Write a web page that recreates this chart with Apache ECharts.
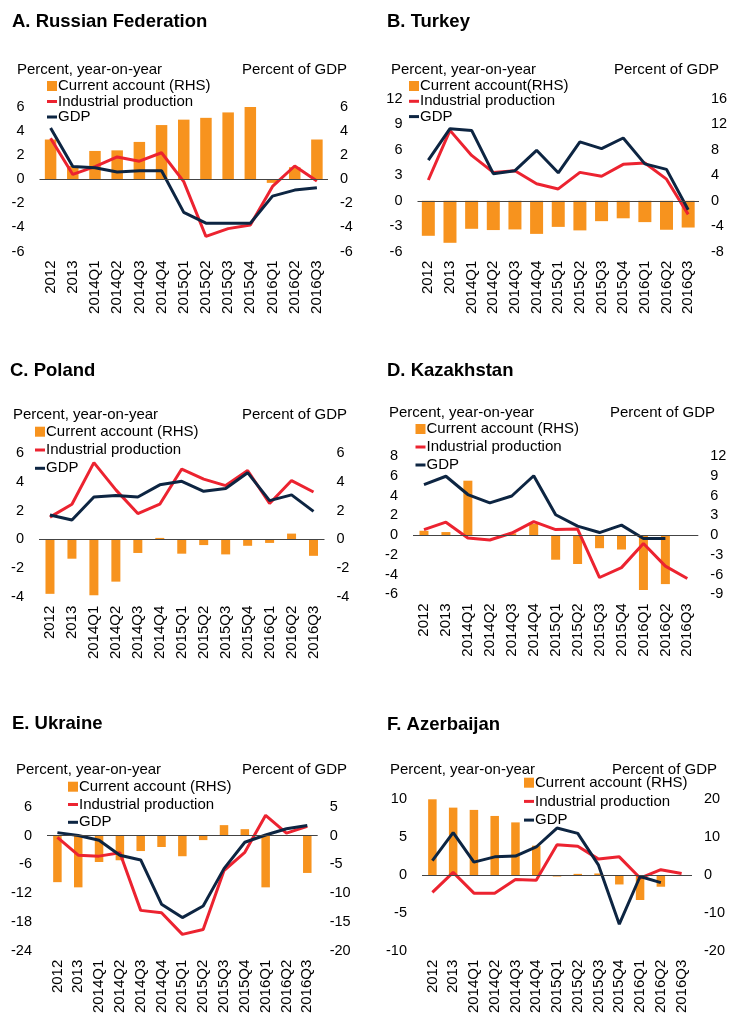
<!DOCTYPE html>
<html>
<head>
<meta charset="utf-8">
<title>Current account, industrial production and GDP</title>
<script src="https://cdn.jsdelivr.net/npm/echarts@6/dist/echarts.min.js"></script>
<style>
  html, body { margin: 0; padding: 0; background: #ffffff; }
  #chart { width: 733px; height: 1015px; }
</style>
</head>
<body>
<div id="chart"></div>
<script>
// Periods shared by all six panels
const categories = ['2012', '2013', '2014Q1', '2014Q2', '2014Q3', '2014Q4',
  '2015Q1', '2015Q2', '2015Q3', '2015Q4', '2016Q1', '2016Q2', '2016Q3'];

// A. Russian Federation
const russiaCurrentAccount = [3.3, 1.1, 2.35, 2.4, 3.1, 4.5, 4.95, 5.1, 5.55, 6.0, -0.3, 1.0, 3.3];
const russiaIndustrial = [3.4, 0.4, 1.05, 1.85, 1.5, 2.2, -0.2, -4.75, -4.1, -3.8, -0.6, 1.1, -0.15];
const russiaGDP = [4.25, 1.05, 0.95, 0.6, 0.7, 0.7, -2.75, -3.65, -3.65, -3.65, -1.4, -0.9, -0.7];

// B. Turkey
const turkeyCurrentAccount = [-5.5, -6.6, -4.4, -4.6, -4.5, -5.2, -4.1, -4.65, -3.2, -2.75, -3.35, -4.55, -4.2];
const turkeyIndustrial = [2.45, 8.3, 5.35, 3.35, 3.55, 2.0, 1.4, 3.35, 2.9, 4.3, 4.45, 2.55, -1.6];
const turkeyGDP = [4.8, 8.5, 8.3, 3.2, 3.55, 5.95, 3.3, 6.95, 6.15, 7.4, 4.35, 3.7, -1.05];

// C. Poland
const polandCurrentAccount = [-3.8, -1.35, -3.9, -2.95, -0.95, 0.1, -1.0, -0.4, -1.05, -0.45, -0.25, 0.4, -1.15];
const polandIndustrial = [1.55, 2.45, 5.35, 3.45, 1.8, 2.45, 4.9, 4.2, 3.75, 4.8, 2.5, 4.1, 3.3];
const polandGDP = [1.7, 1.35, 2.95, 3.05, 2.95, 3.8, 4.05, 3.35, 3.55, 4.65, 2.7, 3.1, 1.95];

// D. Kazakhstan
const kazakhstanCurrentAccount = [0.65, 0.45, 8.25, null, 0.25, 1.7, -3.75, -4.4, -2.0, -2.2, -8.35, -7.45, null];
const kazakhstanIndustrial = [0.55, 1.3, -0.3, -0.5, 0.2, 1.35, 0.55, 0.6, -4.3, -3.3, -0.85, -3.15, -4.4];
const kazakhstanGDP = [5.1, 5.95, 4.1, 3.25, 3.95, 6.0, 2.05, 0.9, 0.25, 1.0, -0.35, -0.35, null];

// E. Ukraine
const ukraineCurrentAccount = [-8.1, -9.0, -4.6, -4.3, -2.7, -2.0, -3.6, -0.8, 1.8, 1.1, -9.0, null, -6.5];
const ukraineIndustrial = [-0.4, -4.1, -4.3, -3.6, -15.6, -16.1, -20.6, -19.6, -7.3, -3.5, 4.2, 0.5, 1.9];
const ukraineGDP = [0.6, 0.0, -1.0, -4.1, -5.1, -14.3, -17.1, -14.7, -6.9, -1.4, 0.1, 1.4, 2.1];

// F. Azerbaijan
const azerbaijanCurrentAccount = [20.0, 17.8, 17.2, 15.6, 13.9, 7.75, -0.4, 0.3, 0.4, -2.5, -6.6, -3.1, null];
const azerbaijanIndustrial = [-2.3, 0.35, -2.4, -2.4, -0.6, -0.7, 4.0, 3.8, 2.1, 2.4, -0.4, 0.7, 0.2];
const azerbaijanGDP = [1.9, 5.6, 1.7, 2.4, 2.5, 3.7, 6.2, 5.5, 1.3, -6.5, -0.2, -1.0, null];

// Axis ranges: [min, max, interval] for left (percent y/y) and right (percent of GDP)
const russiaLeftAxis = [-6, 6, 2],      russiaRightAxis = [-6, 6, 2];
const turkeyLeftAxis = [-6, 12, 3],     turkeyRightAxis = [-8, 16, 4];
const polandLeftAxis = [-4, 6, 2],      polandRightAxis = [-4, 6, 2];
const kazakhstanLeftAxis = [-6, 8, 2],  kazakhstanRightAxis = [-9, 12, 3];
const ukraineLeftAxis = [-24, 6, 6],    ukraineRightAxis = [-20, 5, 5];
const azerbaijanLeftAxis = [-10, 10, 5], azerbaijanRightAxis = [-20, 20, 10];

const leftUnit = 'Percent, year-on-year';
const rightUnit = 'Percent of GDP';
const ipName = 'Industrial production';
const gdpName = 'GDP';

const panels = [
  { title: 'A. Russian Federation', caName: 'Current account (RHS)', ca: russiaCurrentAccount, ip: russiaIndustrial, gdp: russiaGDP, left: russiaLeftAxis, right: russiaRightAxis },
  { title: 'B. Turkey', caName: 'Current account(RHS)', ca: turkeyCurrentAccount, ip: turkeyIndustrial, gdp: turkeyGDP, left: turkeyLeftAxis, right: turkeyRightAxis },
  { title: 'C. Poland', caName: 'Current account (RHS)', ca: polandCurrentAccount, ip: polandIndustrial, gdp: polandGDP, left: polandLeftAxis, right: polandRightAxis },
  { title: 'D. Kazakhstan', caName: 'Current account (RHS)', ca: kazakhstanCurrentAccount, ip: kazakhstanIndustrial, gdp: kazakhstanGDP, left: kazakhstanLeftAxis, right: kazakhstanRightAxis },
  { title: 'E. Ukraine', caName: 'Current account (RHS)', ca: ukraineCurrentAccount, ip: ukraineIndustrial, gdp: ukraineGDP, left: ukraineLeftAxis, right: ukraineRightAxis },
  { title: 'F. Azerbaijan', caName: 'Current account (RHS)', ca: azerbaijanCurrentAccount, ip: azerbaijanIndustrial, gdp: azerbaijanGDP, left: azerbaijanLeftAxis, right: azerbaijanRightAxis }
];

// Placement of each panel on the page
const layout = [
  { grid: { left: 39.5, top: 107, width: 288.5, height: 144.5 }, title: [12, 12], units: [17, 62.5, 386], legend: [47, 78.5, 0.5], barWidth: 11.5 },
  { grid: { left: 417.5, top: 99, width: 281.5, height: 152.7 }, title: [387, 12], units: [391, 62.5, 14], legend: [409, 78.5, 0.3], barWidth: 13 },
  { grid: { left: 39, top: 453.3, width: 285.5, height: 143.4 }, title: [10, 361.5], units: [13, 407.5, 386], legend: [35, 424.2, 3.3], barWidth: 9 },
  { grid: { left: 413, top: 456, width: 285.3, height: 138.3 }, title: [387, 361], units: [389, 405, 18], legend: [415.5, 421.5, 3], barWidth: 9 },
  { grid: { left: 47, top: 806.7, width: 270.7, height: 144 }, title: [12, 714], units: [16, 762.5, 386], legend: [68, 779.2, 2.8], barWidth: 8.5 },
  { grid: { left: 422, top: 799.3, width: 270, height: 151.4 }, title: [387, 715], units: [390, 762.5, 16], legend: [524, 775.2, 3.7], barWidth: 8.5 }
];

const FONT = '"Liberation Sans", Arial, Helvetica, sans-serif';
const ORANGE = '#F7931E';
const RED = '#EC2330';
const NAVY = '#0D2542';
const TEXT = '#000000';
const LINE_ICON = 'path://M0,0H10V3H0Z';

const option = {
  animation: false,
  backgroundColor: '#ffffff',
  textStyle: { fontFamily: FONT },
  title: [],
  legend: [],
  grid: [],
  xAxis: [],
  yAxis: [],
  series: []
};

panels.forEach((p, i) => {
  const L = layout[i];

  option.title.push({
    text: p.title, left: L.title[0], top: L.title[1], padding: 0,
    textStyle: { fontFamily: FONT, fontSize: 18.5, fontWeight: 'bold', color: TEXT }
  });
  option.title.push({
    text: leftUnit, left: L.units[0], top: L.units[1], padding: 0,
    textStyle: { fontFamily: FONT, fontSize: 15, fontWeight: 'normal', color: TEXT }
  });
  option.title.push({
    text: rightUnit, right: L.units[2], top: L.units[1], padding: 0,
    textStyle: { fontFamily: FONT, fontSize: 15, fontWeight: 'normal', color: TEXT }
  });

  option.legend.push({
    orient: 'vertical', left: L.legend[0], top: L.legend[1], itemGap: L.legend[2],
    padding: 0, itemWidth: 10, itemHeight: 10, selectedMode: false,
    textStyle: { fontFamily: FONT, fontSize: 15, lineHeight: 15, color: TEXT, padding: [0, 0, 0, -4] },
    data: [
      { name: p.caName, icon: 'rect' },
      { name: ipName, icon: LINE_ICON },
      { name: gdpName, icon: LINE_ICON }
    ]
  });

  option.grid.push(Object.assign({ containLabel: false, outerBoundsMode: 'none' }, L.grid));

  option.xAxis.push({
    type: 'category', gridIndex: i, data: categories, boundaryGap: true,
    axisLine: { show: false, onZero: false }, axisTick: { show: false },
    splitLine: { show: false },
    axisLabel: { interval: 0, rotate: 90, margin: 9, fontFamily: FONT, fontSize: 15, color: TEXT }
  });

  const yCommon = {
    type: 'value', gridIndex: i,
    axisLine: { show: false }, axisTick: { show: false }, splitLine: { show: false }
  };
  option.yAxis.push(Object.assign({}, yCommon, {
    position: 'left', min: p.left[0], max: p.left[1], interval: p.left[2],
    axisLabel: { margin: 15, fontFamily: FONT, fontSize: 14.5, color: TEXT }
  }));
  option.yAxis.push(Object.assign({}, yCommon, {
    position: 'right', min: p.right[0], max: p.right[1], interval: p.right[2],
    axisLabel: { margin: 12, fontFamily: FONT, fontSize: 14.5, color: TEXT }
  }));

  option.series.push({
    name: p.caName, type: 'bar', xAxisIndex: i, yAxisIndex: 2 * i + 1,
    data: p.ca, barWidth: L.barWidth,
    itemStyle: { color: ORANGE },
    markLine: {
      silent: true, symbol: ['none', 'none'], label: { show: false },
      lineStyle: { color: '#444444', width: 1, type: 'solid' },
      emphasis: { disabled: true },
      data: [{ yAxis: 0 }]
    }
  });
  option.series.push({
    name: ipName, type: 'line', xAxisIndex: i, yAxisIndex: 2 * i,
    data: p.ip, symbol: 'none', connectNulls: false,
    itemStyle: { color: RED }, lineStyle: { color: RED, width: 3 }
  });
  option.series.push({
    name: gdpName, type: 'line', xAxisIndex: i, yAxisIndex: 2 * i,
    data: p.gdp, symbol: 'none', connectNulls: false,
    itemStyle: { color: NAVY }, lineStyle: { color: NAVY, width: 3 }
  });
});

const chart = echarts.init(document.getElementById('chart'), null, { renderer: 'canvas' });
chart.setOption(option);
</script>
</body>
</html>
